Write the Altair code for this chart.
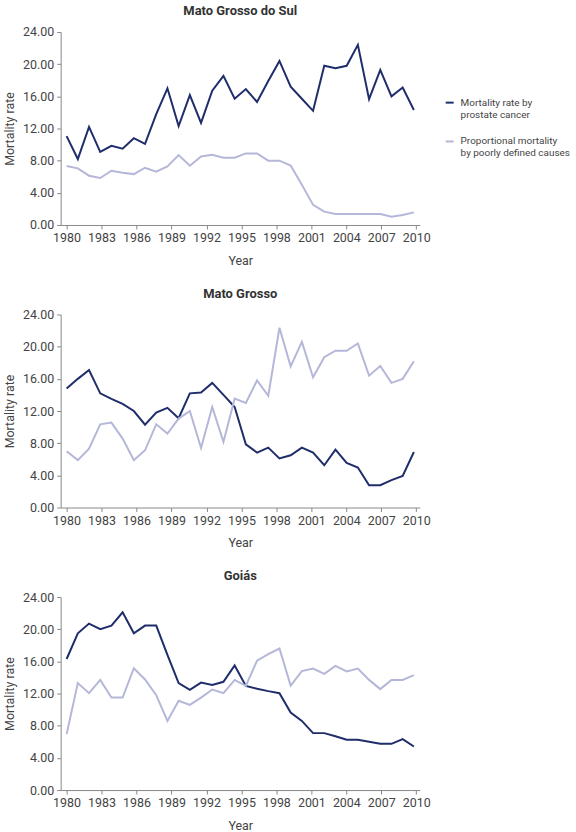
import altair as alt
import pandas as pd

# Yearly observations: 32 evenly spaced points across the 1980-2010 axis
STATES = ["Mato Grosso do Sul", "Mato Grosso", "Goiás"]
SERIES = ["Mortality rate by prostate cancer",
          "Proportional mortality by poorly defined causes"]
YEAR_TICKS = [1980, 1983, 1986, 1989, 1992, 1995, 1998, 2001, 2004, 2007, 2010]
Y_TICKS = [0, 4, 8, 12, 16, 20, 24]

ms_prostate = [11.05, 8.2, 12.2, 9.1, 9.85, 9.5, 10.8, 10.1, 13.8, 17.0, 12.3,
               16.15, 12.7, 16.7, 18.55, 15.7, 16.9, 15.3, 17.9, 20.4, 17.2,
               15.7, 14.2, 19.8, 19.5, 19.8, 22.4, 15.65, 19.3, 16.0, 17.1, 14.3]
ms_illdefined = [7.33, 7.04, 6.13, 5.84, 6.75, 6.5, 6.33, 7.12, 6.63, 7.29, 8.7,
                 7.37, 8.53, 8.74, 8.36, 8.36, 8.9, 8.9, 8.0, 8.0, 7.4, 5.0,
                 2.5, 1.66, 1.37, 1.37, 1.37, 1.37, 1.37, 1.04, 1.24, 1.57]

mt_prostate = [14.8, 16.0, 17.1, 14.2, 13.5, 12.9, 12.0, 10.3, 11.8, 12.4, 11.1,
               14.2, 14.3, 15.5, 14.0, 12.5, 7.85, 6.83, 7.45, 6.1, 6.5, 7.45,
               6.83, 5.26, 7.2, 5.55, 4.97, 2.77, 2.77, 3.4, 3.93, 6.9]
mt_illdefined = [7.0, 5.9, 7.33, 10.35, 10.56, 8.57, 5.88, 7.12, 10.35, 9.2, 11.06,
                 12.0, 7.4, 12.5, 8.16, 13.55, 13.0, 15.8, 13.9, 22.36, 17.56,
                 20.6, 16.2, 18.7, 19.5, 19.5, 20.4, 16.4, 17.6, 15.5, 16.0, 18.2]

go_prostate = [16.3, 19.5, 20.7, 20.0, 20.45, 22.1, 19.5, 20.45, 20.45, 16.8, 13.3,
               12.46, 13.37, 13.08, 13.46, 15.5, 12.95, 12.6, 12.3, 12.05, 9.65,
               8.6, 7.08, 7.08, 6.7, 6.25, 6.25, 6.0, 5.75, 5.75, 6.33, 5.42]
go_illdefined = [6.96, 13.3, 12.05, 13.7, 11.5, 11.5, 15.15, 13.75, 11.8, 8.6, 11.1,
                 10.6, 11.5, 12.5, 12.05, 13.7, 12.95, 16.1, 16.9, 17.6, 13.0,
                 14.8, 15.1, 14.45, 15.45, 14.75, 15.1, 13.7, 12.55, 13.7, 13.7, 14.3]

PANELS = [
    (STATES[0], ms_prostate, ms_illdefined),
    (STATES[1], mt_prostate, mt_illdefined),
    (STATES[2], go_prostate, go_illdefined),
]

DARK = "#1f2d6b"
LIGHT = "#b5b7d8"
FONT = "Roboto"


def panel(state, prostate, illdefined):
    rows = []
    for name, values in zip(SERIES, (prostate, illdefined)):
        for i, v in enumerate(values):
            rows.append({"idx": i, "value": v, "series": name})
    df = pd.DataFrame(rows)

    y = alt.Y("value:Q",
              scale=alt.Scale(domain=[0, 24], nice=False),
              axis=alt.Axis(values=Y_TICKS, format=".2f", title="Mortality rate"))

    # Year axis carried by an invisible rule layer
    axis_layer = alt.Chart(pd.DataFrame({"year": YEAR_TICKS})).mark_rule(opacity=0).encode(
        x=alt.X("year:Q",
                scale=alt.Scale(domain=[1979.5, 2010.3], nice=False, zero=False),
                axis=alt.Axis(values=YEAR_TICKS, format="d", title="Year")),
    )

    lines = alt.Chart(df).mark_line(strokeWidth=2).encode(
        x=alt.X("idx:Q",
                scale=alt.Scale(domain=[-0.53, 31.53], nice=False, zero=False),
                axis=None),
        y=y,
        color=alt.Color(
            "series:N",
            scale=alt.Scale(domain=SERIES, range=[DARK, LIGHT]),
            legend=alt.Legend(
                orient="none", legendX=386, legendY=66, title=None,
                symbolType="stroke", symbolSize=64, symbolStrokeWidth=2,
                labelFontSize=10, labelFont=FONT, labelColor="#444444",
                labelLimit=300, labelOffset=6, rowPadding=17, padding=0,
                labelExpr=("datum.label == '" + SERIES[0] + "' ? "
                           "['Mortality rate by', 'prostate cancer'] : "
                           "['Proportional mortality', 'by poorly defined causes']"),
            ),
        ),
        order="idx:Q",
    )

    return alt.layer(axis_layer, lines).resolve_scale(x="independent").properties(
        width=361, height=194,
        title=alt.TitleParams(state, fontSize=13, font=FONT, fontWeight="bold",
                              color="#333333", anchor="middle", frame="group",
                              offset=8),
    )


chart = alt.vconcat(*[panel(*p) for p in PANELS], spacing=21).properties(
    padding={"left": 3, "top": 3, "right": 5, "bottom": 0},
).configure_axis(
    labelFont=FONT, labelFontSize=12.5, labelColor="#444444",
    titleFont=FONT, titleFontSize=12.5, titleColor="#444444", titleFontWeight="normal",
    domainColor="#888888", tickColor="#888888", tickSize=4, grid=False,
    labelPadding=3,
).configure_axisX(titlePadding=10).configure_axisY(titlePadding=6).configure_view(
    stroke=None
)

chart.save("out.html", embed_options={"renderer": "svg", "actions": False})
